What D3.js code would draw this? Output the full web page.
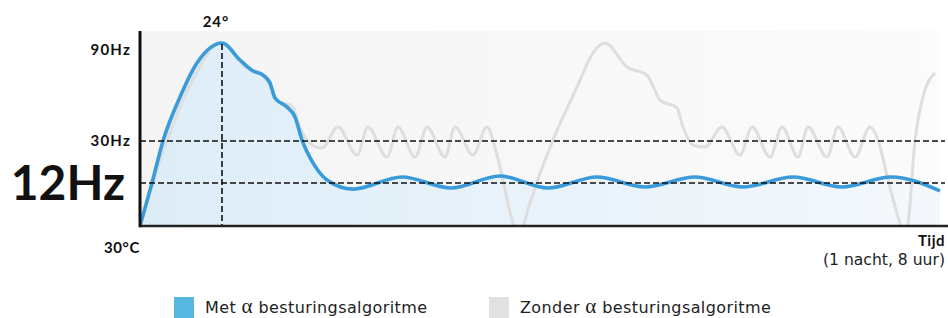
<!DOCTYPE html>
<html>
<head>
<meta charset="utf-8">
<script src="https://cdn.jsdelivr.net/npm/d3@7"></script>
<style>
  body { margin: 0; background: #fff; font-family: 'Lato', sans-serif; }
  svg { display: block; }
</style>
</head>
<body>
<svg id="chart" width="948" height="318"></svg>
<script>
// time in hours (one night of 8 hours), frequency in Hz
const hzTicks = [90, 30, 12]
const hzLabels = ['90Hz', '30Hz', '12Hz']
const peakTime = 0.82
const peakLabel = '24°'
const startLabel = '30°C'
const timeLabel = 'Tijd'
const timeSubLabel = '(1 nacht, 8 uur)'

// with the alpha control algorithm
const withTime = [0, 0.12, 0.23, 0.40, 0.57, 0.82, 1.00, 1.13, 1.23, 1.30, 1.35, 1.47, 1.55, 1.62, 1.73, 1.87,
  2.13, 2.62, 3.11, 3.60, 4.08, 4.57, 5.05, 5.55, 6.03, 6.53, 7.02, 7.51, 8.0]
const withHz = [0, 12, 30, 59.0, 81.4, 94.6, 83.4, 76.2, 73.5, 68.2, 58.3, 52.4, 45.8, 30.7, 20.6, 13.3,
  10.3, 14.6, 10.6, 15.0, 10.6, 14.6, 10.9, 14.6, 10.9, 14.6, 10.9, 14.6, 9.8]

// without the alpha control algorithm
const withoutTime = [0, 0.27, 0.50, 0.82, 1.04, 1.22, 1.30, 1.36, 1.53, 1.59, 1.70, 1.82,
  1.98, 2.17, 2.28, 2.47, 2.58, 2.75, 2.87, 3.05, 3.15, 3.33, 3.47, 3.57, 3.73, 3.78, 3.84, 3.90,
  4.13, 4.37, 4.53, 4.65, 4.87, 5.07, 5.14, 5.20, 5.37, 5.43, 5.53, 5.65,
  5.82, 6.00, 6.12, 6.30, 6.42, 6.58, 6.68, 6.87, 6.98, 7.15, 7.30, 7.38, 7.48, 7.60, 7.64, 7.68,
  7.75, 7.83, 7.95]
const withoutHz = [0, 30, 66.9, 94.6, 79.4, 73.5, 66.3, 57.0, 52.4, 40.5, 29.1, 27.0,
  39.2, 24.0, 39.2, 23.1, 39.2, 23.1, 39.2, 23.1, 39.2, 24.0, 39.2, 24.0, 0.8, -2.8, 0.8, 6.4,
  30.7, 65.6, 88.0, 94.6, 78.8, 73.5, 64.9, 57.0, 51.8, 39.2, 28.3, 27.4,
  39.2, 24.0, 39.2, 23.1, 39.2, 23.1, 39.2, 23.1, 39.2, 23.1, 39.2, 30.7, 13.3, 0.8, -2.2, 0.8,
  30.7, 59.0, 74.8]

const legendPrefix = ['Met ', 'Zonder ']
const legendSuffix = ' besturingsalgoritme'
const legendColors = ['#56b7e0', '#e1e1e1']

const plotLeft = 140, plotRight = 940, plotTop = 31, plotBottom = 226
const smallFont = 'DejaVu Sans'

const svg = d3.select('#chart')
const x = d3.scaleLinear().domain([0, 8]).range([plotLeft, plotRight])
const y = d3.scaleLinear().domain([0, 12, 30, 90]).range([plotBottom, 183, 141, 50])

const defs = svg.append('defs')
const bg = defs.append('linearGradient').attr('id', 'bg')
bg.append('stop').attr('offset', '0%').attr('stop-color', '#f4f4f4')
bg.append('stop').attr('offset', '100%').attr('stop-color', '#fbfbfb')
const fill = defs.append('linearGradient').attr('id', 'fill')
fill.append('stop').attr('offset', '0%').attr('stop-color', '#ddedf8')
fill.append('stop').attr('offset', '100%').attr('stop-color', '#f4f8fc')
defs.append('clipPath').attr('id', 'plot')
  .append('rect').attr('x', plotLeft).attr('y', 0).attr('width', 948 - plotLeft).attr('height', plotBottom)

svg.append('rect')
  .attr('x', plotLeft).attr('y', plotTop)
  .attr('width', plotRight - plotLeft).attr('height', plotBottom - plotTop)
  .attr('fill', 'url(#bg)')

const withData = withTime.map((t, i) => [t, withHz[i]])
const withoutData = withoutTime.map((t, i) => [t, withoutHz[i]])

const line = d3.line().x(d => x(d[0])).y(d => y(d[1])).curve(d3.curveMonotoneX)
const area = d3.area().x(d => x(d[0])).y0(plotBottom).y1(d => y(d[1])).curve(d3.curveMonotoneX)

const g = svg.append('g').attr('clip-path', 'url(#plot)')

g.append('path').datum(withData)
  .attr('d', area)
  .attr('fill', 'url(#fill)')

g.append('path').datum(withoutData)
  .attr('d', line)
  .attr('fill', 'none')
  .attr('stroke', '#dedede')
  .attr('stroke-width', 3)

g.append('path').datum(withData)
  .attr('d', line)
  .attr('fill', 'none')
  .attr('stroke', '#3a9bdb')
  .attr('stroke-width', 3.6)

// reference lines
svg.selectAll('.hline')
  .data(hzTicks.slice(1))
  .join('line')
  .attr('class', 'hline')
  .attr('x1', plotLeft).attr('x2', 945)
  .attr('y1', d => y(d)).attr('y2', d => y(d))
  .attr('stroke', '#111')
  .attr('stroke-width', 1.6)
  .attr('stroke-dasharray', '6,3')

svg.append('line')
  .attr('x1', x(peakTime)).attr('x2', x(peakTime))
  .attr('y1', y(d3.max(withHz)) + 1).attr('y2', plotBottom)
  .attr('stroke', '#111')
  .attr('stroke-width', 1.6)
  .attr('stroke-dasharray', '6,3')

// axes
svg.append('line')
  .attr('x1', plotLeft).attr('x2', 948)
  .attr('y1', plotBottom).attr('y2', plotBottom)
  .attr('stroke', '#222').attr('stroke-width', 2.5)
svg.append('line')
  .attr('x1', plotLeft).attr('x2', plotLeft)
  .attr('y1', plotTop).attr('y2', plotBottom + 1.25)
  .attr('stroke', '#111').attr('stroke-width', 3)

// labels
svg.selectAll('.ylab')
  .data(hzTicks.slice(0, 2))
  .join('text')
  .attr('class', 'ylab')
  .attr('x', 131)
  .attr('y', d => y(d) + 5)
  .attr('text-anchor', 'end')
  .attr('font-size', 15)
  .attr('font-weight', 700)
  .attr('letter-spacing', 1.2)
  .attr('fill', '#111')
  .text((d, i) => hzLabels[i])

svg.append('text')
  .attr('x', 125)
  .attr('y', y(hzTicks[2]) + 17)
  .attr('text-anchor', 'end')
  .attr('font-size', 48)
  .attr('font-weight', 700)
  .attr('fill', '#111')
  .text(hzLabels[2])

svg.append('text')
  .attr('x', x(peakTime) - 6)
  .attr('y', 27)
  .attr('text-anchor', 'middle')
  .attr('font-size', 15)
  .attr('font-weight', 700)
  .attr('letter-spacing', 1)
  .attr('fill', '#111')
  .text(peakLabel)

svg.append('text')
  .attr('x', 122)
  .attr('y', 253)
  .attr('text-anchor', 'middle')
  .attr('font-size', 15)
  .attr('font-weight', 700)
  .attr('letter-spacing', 0.6)
  .attr('fill', '#111')
  .text(startLabel)

svg.append('text')
  .attr('x', 945)
  .attr('y', 246)
  .attr('text-anchor', 'end')
  .attr('font-size', 15)
  .attr('font-weight', 700)
  .attr('letter-spacing', 0.5)
  .attr('fill', '#111')
  .text(timeLabel)

svg.append('text')
  .attr('x', 945)
  .attr('y', 265)
  .attr('text-anchor', 'end')
  .attr('font-family', smallFont)
  .attr('font-size', 15.6)
  .attr('fill', '#222')
  .text(timeSubLabel)

// legend
const legendX = [174, 489]
const legend = svg.selectAll('.leg')
  .data(legendPrefix)
  .join('g')
  .attr('class', 'leg')
  .attr('transform', (d, i) => `translate(${legendX[i]},297)`)
legend.append('rect')
  .attr('width', 20).attr('height', 21)
  .attr('fill', (d, i) => legendColors[i])
const lt = legend.append('text')
  .attr('x', 31).attr('y', 16)
  .attr('font-family', smallFont)
  .attr('font-size', 16)
  .attr('letter-spacing', 0.4)
  .attr('fill', '#222')
lt.append('tspan').text(d => d)
lt.append('tspan').attr('font-family', 'Liberation Serif').attr('font-size', 21).text('α')
lt.append('tspan').text(legendSuffix)
</script>
</body>
</html>
